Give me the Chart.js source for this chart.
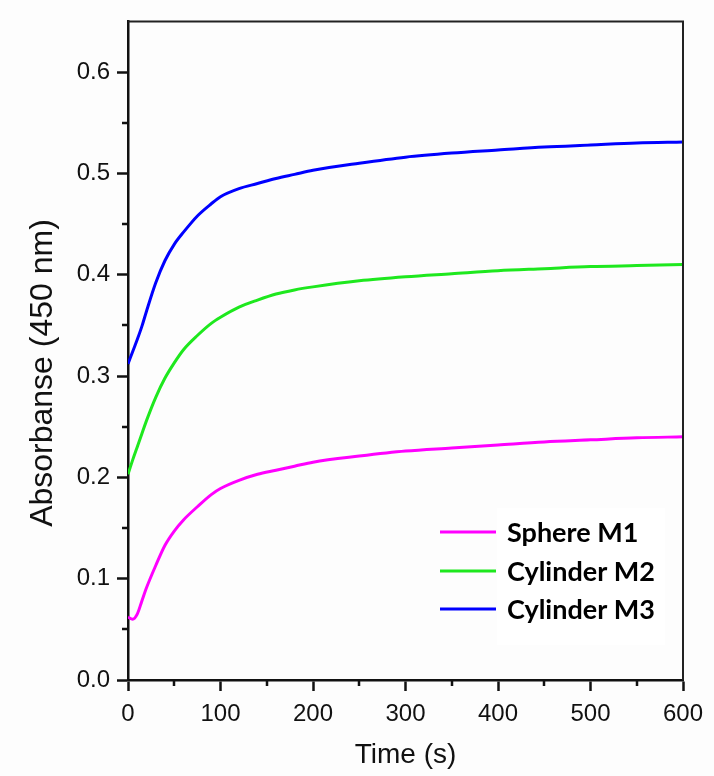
<!DOCTYPE html>
<html>
<head>
<meta charset="utf-8">
<script src="https://cdn.jsdelivr.net/npm/chart.js@4.4.1/dist/chart.umd.min.js"></script>
<style>
  html, body { margin: 0; padding: 0; background: #fdfdfd; }
  canvas { display: block; }
</style>
</head>
<body>
<canvas id="grafico" width="714" height="776"></canvas>
<script>
// ========== Datos ==========
const tiempos = [0, 5, 10, 15, 20, 30, 40, 50, 60, 75, 90, 100, 120, 140, 160, 180, 200, 250, 300, 350, 400, 450, 500, 550, 600];
const esferaM1 = [0.062, 0.060, 0.065, 0.078, 0.091, 0.113, 0.133, 0.147, 0.158, 0.171, 0.183, 0.189, 0.197, 0.203, 0.207, 0.211, 0.215, 0.221, 0.226, 0.229, 0.232, 0.235, 0.237, 0.239, 0.240];
const cilindroM2 = [0.203, 0.217, 0.230, 0.243, 0.256, 0.279, 0.298, 0.313, 0.326, 0.340, 0.352, 0.358, 0.368, 0.375, 0.381, 0.385, 0.388, 0.394, 0.398, 0.401, 0.404, 0.406, 0.408, 0.409, 0.410];
const cilindroM3 = [0.312, 0.324, 0.336, 0.349, 0.364, 0.392, 0.414, 0.430, 0.442, 0.458, 0.470, 0.477, 0.485, 0.490, 0.495, 0.499, 0.503, 0.510, 0.516, 0.520, 0.523, 0.526, 0.528, 0.530, 0.531];

const nombres = ["Sphere M1", "Cylinder M2", "Cylinder M3"];
const colores = ["#ff00ff", "#1ee81e", "#0000ff"];

const ticksX = [0, 100, 200, 300, 400, 500, 600];
const ticksMenoresX = [50, 150, 250, 350, 450, 550];
const ticksY = [0.0, 0.1, 0.2, 0.3, 0.4, 0.5, 0.6];
const ticksMenoresY = [0.05, 0.15, 0.25, 0.35, 0.45, 0.55];

const FUENTE = "'Liberation Sans', Arial, sans-serif";

function puntos(valores) {
  return tiempos.map((t, i) => ({ x: t, y: valores[i] }));
}

// ========== Plugins ==========
const fondo = {
  id: "fondo",
  beforeDraw(chart) {
    const ctx = chart.ctx;
    ctx.save();
    ctx.fillStyle = "#fdfdfd";
    ctx.fillRect(0, 0, chart.width, chart.height);
    ctx.restore();
  },
};

const marco = {
  id: "marco",
  afterDraw(chart) {
    const { ctx, chartArea } = chart;
    const sx = chart.scales.x;
    const sy = chart.scales.y;
    ctx.save();
    ctx.strokeStyle = "#222";
    ctx.lineWidth = 2;
    // marco superior y derecho
    ctx.beginPath();
    ctx.moveTo(chartArea.left, chartArea.top);
    ctx.lineTo(chartArea.right, chartArea.top);
    ctx.lineTo(chartArea.right, chartArea.bottom);
    ctx.stroke();
    // ticks menores
    ctx.strokeStyle = "#111";
    ctx.lineWidth = 2.5;
    ctx.beginPath();
    ticksMenoresX.forEach((v) => {
      const px = Math.round(sx.getPixelForValue(v));
      ctx.moveTo(px, chartArea.bottom);
      ctx.lineTo(px, chartArea.bottom + 6);
    });
    ticksMenoresY.forEach((v) => {
      const py = Math.round(sy.getPixelForValue(v));
      ctx.moveTo(chartArea.left, py);
      ctx.lineTo(chartArea.left - 6, py);
    });
    ctx.stroke();

    // titulo eje Y
    ctx.fillStyle = "#111";
    ctx.font = "32px " + FUENTE;
    ctx.textAlign = "center";
    ctx.textBaseline = "middle";
    ctx.translate(43, 373);
    ctx.rotate(-Math.PI / 2);
    ctx.fillText("Absorbanse (450 nm)", 0, 0);
    ctx.restore();
  },
};

const leyenda = {
  id: "leyenda",
  afterDraw(chart) {
    const ctx = chart.ctx;
    const filasY = [532, 571, 609];
    ctx.save();
    ctx.fillStyle = "#ffffff";
    ctx.fillRect(497, 508, 168, 137);
    chart.data.datasets.forEach((ds, i) => {
      const y = filasY[i];
      ctx.strokeStyle = ds.borderColor;
      ctx.lineWidth = 3;
      ctx.beginPath();
      ctx.moveTo(440, y);
      ctx.lineTo(496, y);
      ctx.stroke();
      ctx.fillStyle = "#000";
      ctx.font = "bold 27px Lato, 'Open Sans', sans-serif";
      ctx.textAlign = "left";
      ctx.textBaseline = "middle";
      ctx.fillText(ds.label, 507, y + 1);
    });
    ctx.restore();
  },
};

// ========== Grafico ==========
const ctx = document.getElementById("grafico").getContext("2d");

new Chart(ctx, {
  type: "line",
  data: {
    datasets: [esferaM1, cilindroM2, cilindroM3].map((serie, i) => ({
      label: nombres[i],
      data: puntos(serie),
      borderColor: colores[i],
      backgroundColor: colores[i],
      borderWidth: 3,
      pointRadius: 0,
      cubicInterpolationMode: "monotone",
      fill: false,
    })),
  },
  options: {
    responsive: false,
    animation: false,
    layout: { padding: { top: 17, right: 31, left: 0, bottom: 0 } },
    plugins: {
      legend: { display: false },
      tooltip: { enabled: false },
    },
    scales: {
      x: {
        type: "linear",
        min: 0,
        max: 600,
        afterFit: (s) => { s.height = 96; },
        afterBuildTicks: (s) => { s.ticks = ticksX.map((v) => ({ value: v })); },
        grid: {
          drawOnChartArea: false,
          drawTicks: true,
          tickLength: 11,
          tickWidth: 2.5,
          tickColor: "#111",
        },
        border: { display: true, color: "#111", width: 2.5 },
        ticks: {
          color: "#111",
          font: { family: FUENTE, size: 24 },
          padding: 9,
          maxRotation: 0,
          callback: (v) => String(v),
        },
        title: {
          display: true,
          text: "Time (s)",
          color: "#111",
          font: { family: FUENTE, size: 28 },
          padding: { top: 0, bottom: 4 },
        },
      },
      y: {
        type: "linear",
        min: 0,
        max: 0.65,
        afterFit: (s) => { s.width = 128; },
        afterBuildTicks: (s) => { s.ticks = ticksY.map((v) => ({ value: v })); },
        grid: {
          drawOnChartArea: false,
          drawTicks: true,
          tickLength: 11,
          tickWidth: 2.5,
          tickColor: "#111",
        },
        border: { display: true, color: "#111", width: 2.5 },
        ticks: {
          color: "#111",
          font: { family: FUENTE, size: 24 },
          padding: 7,
          callback: (v) => Number(v).toFixed(1),
        },
      },
    },
  },
  plugins: [fondo, marco, leyenda],
});
</script>
</body>
</html>
